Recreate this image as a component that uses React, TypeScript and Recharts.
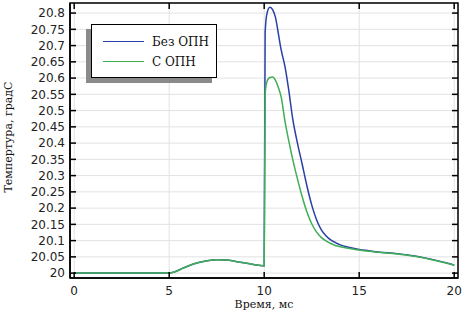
import { LineChart, Line, XAxis, YAxis, CartesianGrid, Legend, Label, ReferenceArea, ReferenceLine } from 'recharts';

const timeMs = [
  0, 5, 5.3, 5.6, 6, 6.5, 7, 7.5, 8, 8.5, 9, 9.5, 9.95, 10.0, 10.05, 10.15, 10.3, 10.45, 10.6, 10.75,
  10.9, 11.1, 11.3, 11.5, 11.75, 12, 12.25, 12.5, 12.75, 13, 13.25, 13.5, 13.75, 14, 14.5, 15, 15.5,
  16, 17, 18, 19, 19.5, 20,
];

const withoutArrester = [
  20.0, 20.0, 20.004, 20.012, 20.022, 20.032, 20.038, 20.041, 20.04, 20.036, 20.031, 20.026, 20.023,
  20.023, 20.74, 20.8, 20.818, 20.81, 20.785, 20.735, 20.685, 20.634, 20.56, 20.475, 20.4, 20.335,
  20.268, 20.21, 20.165, 20.134, 20.115, 20.102, 20.094, 20.087, 20.079, 20.073, 20.069, 20.065, 20.06,
  20.052, 20.04, 20.033, 20.025,
];

const withArrester = [
  20.0, 20.0, 20.004, 20.012, 20.022, 20.032, 20.038, 20.041, 20.04, 20.036, 20.031, 20.026, 20.023,
  20.023, 20.55, 20.59, 20.602, 20.603, 20.592, 20.57, 20.54, 20.465, 20.405, 20.35, 20.29, 20.235,
  20.188, 20.152, 20.127, 20.11, 20.099, 20.091, 20.085, 20.081, 20.076, 20.071, 20.067, 20.064,
  20.059, 20.051, 20.039, 20.032, 20.024,
];

const xTicks = [0, 5, 10, 15, 20];
const yTicks = [
  20, 20.05, 20.1, 20.15, 20.2, 20.25, 20.3, 20.35, 20.4, 20.45, 20.5, 20.55, 20.6, 20.65, 20.7,
  20.75, 20.8,
];

const seriesNames = ['Без ОПН', 'С ОПН'];
const BLUE = '#2a40a4';
const GREEN = '#3fae55';

const data = timeMs.map((t, i) => ({ t, a: withoutArrester[i], b: withArrester[i] }));

const xDomain = [-0.22, 20.2];
const yDomain = [19.985, 20.831];
// 6px inward tick, expressed in axis units (388px over x range, 275px over y range)
const xTickLen = (6 * (xDomain[1] - xDomain[0])) / 388;
const yTickLen = (6 * (yDomain[1] - yDomain[0])) / 275;

const tickStyle = { fontSize: 12, fill: '#222', fontFamily: 'DejaVu Sans, sans-serif' };
const serif = 'DejaVu Serif, serif';
const frame = { stroke: '#000', strokeWidth: 1.5 };

function LegendBox() {
  const rows = [
    { name: seriesNames[0], color: BLUE },
    { name: seriesNames[1], color: GREEN },
  ];
  return (
    <div style={{ position: 'relative', width: 126, height: 54 }}>
      <div
        style={{ position: 'absolute', left: -5, top: 5, width: 126, height: 54, background: '#8a8a8a' }}
      />
      <div
        style={{
          position: 'absolute',
          left: 0,
          top: 0,
          width: 124,
          height: 52,
          background: '#fff',
          border: '1px solid #000',
        }}
      >
        {rows.map((r, i) => (
          <div
            key={r.name}
            style={{ position: 'absolute', left: 0, top: 8 + i * 20, height: 18, width: 124 }}
          >
            <div
              style={{ position: 'absolute', left: 11, top: 8, width: 41, height: 0, borderTop: `1.5px solid ${r.color}` }}
            />
            <span
              style={{
                position: 'absolute',
                left: 60,
                top: 0,
                fontFamily: serif,
                fontSize: 12,
                lineHeight: '18px',
                color: '#111',
                whiteSpace: 'nowrap',
              }}
            >
              {r.name}
            </span>
          </div>
        ))}
      </div>
    </div>
  );
}

export default function App() {
  return (
    <div style={{ position: 'absolute', left: 0, top: 0, width: 463, height: 312, background: '#fff' }}>
      <LineChart width={463} height={312} data={data} margin={{ top: 3, right: 5, bottom: 0, left: 0 }}>
        <CartesianGrid stroke="#e2e2e2" strokeWidth={1} />
        <XAxis
          dataKey="t"
          type="number"
          domain={xDomain}
          ticks={xTicks}
          allowDataOverflow
          height={34}
          tickSize={-6}
          tickMargin={14}
          tick={tickStyle}
          tickLine={frame}
          axisLine={frame}
        >
          <Label
            content={() => (
              <text x={264} y={308} textAnchor="middle" fontFamily={serif} fontSize={11} fill="#111">
                Время, мс
              </text>
            )}
          />
        </XAxis>
        <YAxis
          type="number"
          domain={yDomain}
          ticks={yTicks}
          allowDataOverflow
          width={70}
          tickSize={-6}
          tickMargin={11}
          tick={tickStyle}
          interval={0}
          tickLine={frame}
          axisLine={frame}
        >
          <Label
            content={() => (
              <text
                x={12}
                y={137}
                textAnchor="middle"
                fontFamily={serif}
                fontSize={11}
                fill="#111"
                transform="rotate(-90, 12, 137)"
              >
                Темпертура, градС
              </text>
            )}
          />
        </YAxis>
        <ReferenceArea
          x1={xDomain[0]}
          x2={xDomain[1]}
          y1={yDomain[0]}
          y2={yDomain[1]}
          fill="none"
          stroke="#000"
          strokeWidth={1.5}
          ifOverflow="visible"
        />
        {xTicks.map((v) => (
          <ReferenceLine
            key={`tx${v}`}
            segment={[
              { x: v, y: yDomain[1] },
              { x: v, y: yDomain[1] - yTickLen },
            ]}
            stroke="#000"
            strokeWidth={1.5}
            ifOverflow="visible"
          />
        ))}
        {yTicks.map((v) => (
          <ReferenceLine
            key={`ty${v}`}
            segment={[
              { x: xDomain[1], y: v },
              { x: xDomain[1] - xTickLen, y: v },
            ]}
            stroke="#000"
            strokeWidth={1.5}
            ifOverflow="visible"
          />
        ))}
        <Legend
          layout="vertical"
          align="center"
          verticalAlign="middle"
          content={() => <LegendBox />}
          wrapperStyle={{ left: 91, top: 24, width: 126, height: 54 }}
        />
        <Line
          type="monotone"
          dataKey="a"
          name={seriesNames[0]}
          stroke={BLUE}
          strokeWidth={1.5}
          dot={false}
          isAnimationActive={false}
        />
        <Line
          type="monotone"
          dataKey="b"
          name={seriesNames[1]}
          stroke={GREEN}
          strokeWidth={1.5}
          dot={false}
          isAnimationActive={false}
        />
      </LineChart>
    </div>
  );
}
